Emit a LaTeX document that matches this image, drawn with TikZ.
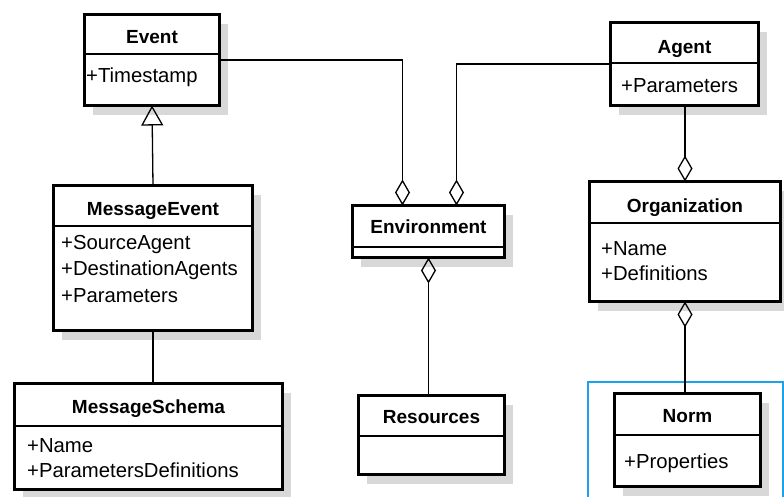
\documentclass[tikz,border=0pt]{standalone}
\usepackage{fontspec}
\setmainfont{Liberation Sans}
\usetikzlibrary{arrows.meta,shadows}
\definecolor{shadowgray}{RGB}{216,216,216}
\definecolor{selblue}{RGB}{26,163,232}
\tikzset{
  classbox/.style={draw, line width=3pt, fill=white, inner sep=0pt, outer sep=0pt,
    anchor=north west,
    drop shadow={shadow xshift=8pt, shadow yshift=-9pt, fill=shadowgray, opacity=1}},
  divline/.style={line width=1.2pt},
  titletext/.style={font=\bfseries\fontsize{19}{22}\selectfont, anchor=base, inner sep=0pt},
  attrtext/.style={font=\fontsize{20.3}{24}\selectfont, anchor=base west, inner sep=0pt},
  conn/.style={line width=1.3pt},
  aggr/.style={conn, {Diamond[open, length=26pt, width=15pt, line width=1.3pt]}-},
  inherit/.style={conn, -{Triangle[open, length=20pt, width=22pt, line width=1.3pt]}},
}
\begin{document}
\begin{tikzpicture}[x=1pt, y=-1pt]
\useasboundingbox (0,0) rectangle (784,496);
\fill[white] (0,0) rectangle (784,496);

% selection frame around Norm
\draw[selblue, line width=2pt] (588,382) rectangle (783,500);

% class boxes
\node[classbox, minimum width=135pt, minimum height=91pt]  (event)  at (84.5,14.5) {};
\node[classbox, minimum width=199pt, minimum height=145pt] (mevent) at (53.5,185.5) {};
\node[classbox, minimum width=268pt, minimum height=106pt] (schema) at (14.5,383.5) {};
\node[classbox, minimum width=152pt, minimum height=52pt]  (env)    at (352.5,205.5) {};
\node[classbox, minimum width=146pt, minimum height=79pt]  (res)    at (358.5,395.5) {};
\node[classbox, minimum width=148pt, minimum height=83pt]  (agent)  at (610.5,22.5) {};
\node[classbox, minimum width=191pt, minimum height=120pt] (org)    at (589.5,181.5) {};
\node[classbox, minimum width=146pt, minimum height=93pt]  (norm)   at (614.5,393.5) {};

% compartment dividers
\draw[divline] (event.west |- 0,54)   -- (event.east |- 0,54);
\draw[divline] (mevent.west |- 0,226) -- (mevent.east |- 0,226);
\draw[divline] (schema.west |- 0,426) -- (schema.east |- 0,426);
\draw[divline] (env.west |- 0,247)    -- (env.east |- 0,247);
\draw[divline] (res.west |- 0,436)    -- (res.east |- 0,436);
\draw[divline] (agent.west |- 0,63)   -- (agent.east |- 0,63);
\draw[divline] (org.west |- 0,223)    -- (org.east |- 0,223);
\draw[divline] (norm.west |- 0,435)   -- (norm.east |- 0,435);

% class names
\node[titletext] (event-t)  at (event.north |- 0,43)  {Event};
\node[titletext] (mevent-t) at (mevent.north |- 0,215) {MessageEvent};
\node[titletext] (schema-t) at (schema.north |- 0,413) {MessageSchema};
\node[titletext] (env-t)    at (env.north |- 0,233)   {Environment};
\node[titletext] (res-t)    at (res.north |- 0,423)   {Resources};
\node[titletext] (agent-t)  at (agent.north |- 0,53)  {Agent};
\node[titletext] (org-t)    at (org.north |- 0,212)   {Organization};
\node[titletext] (norm-t)   at (norm.north |- 0,422)  {Norm};

% attributes
\node[attrtext] (event-a1)  at (86,82)   {+Timestamp};
\node[attrtext] (mevent-a1) at (61,249)  {+SourceAgent};
\node[attrtext] (mevent-a2) at (61,275)  {+DestinationAgents};
\node[attrtext] (mevent-a3) at (61,302)  {+Parameters};
\node[attrtext] (schema-a1) at (27,452)  {+Name};
\node[attrtext] (schema-a2) at (27,477)  {+ParametersDefinitions};
\node[attrtext] (agent-a1)  at (621,92)  {+Parameters};
\node[attrtext] (org-a1)    at (601,255) {+Name};
\node[attrtext] (org-a2)    at (601,280) {+Definitions};
\node[attrtext] (norm-a1)   at (624,468) {+Properties};

% relations
\draw[inherit] (mevent.north) -- (event.south);
\draw[conn] (mevent.south) -- (mevent.south |- schema.north);
\coordinate (env-l) at ([xshift=-26pt]env.north);
\coordinate (env-r) at ([xshift=28pt]env.north);
\draw[aggr] (env-l) |- (event.east);
\draw[aggr] (env-r) |- (agent.west);
\draw[aggr] (env.south) -- (env.south |- res.north);
\draw[aggr] (org.north) -- (org.north |- agent.south);
\draw[aggr] (org.south) -- (org.south |- norm.north);
\end{tikzpicture}
\end{document}
